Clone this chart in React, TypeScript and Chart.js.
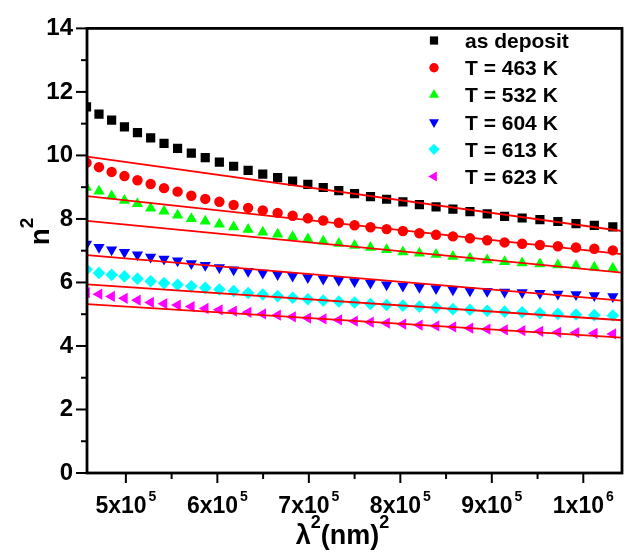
import React, { useEffect, useRef } from 'react';
import { Chart, registerables } from 'chart.js';

Chart.register(...registerables);

// λ² (nm²) for each measured wavelength
const lambdaSq = [456976, 470596, 484416, 498436, 512656, 527076, 541696, 556516, 571536, 586756, 602176, 617796, 633616, 649636, 665856, 682276, 698896, 715716, 732736, 749956, 767376, 784996, 802816, 820836, 839056, 857476, 876096, 894916, 913936, 933156, 952576, 972196, 992016, 1012036, 1032256];

const asDeposit = [11.53, 11.30, 11.11, 10.90, 10.72, 10.55, 10.38, 10.22, 10.07, 9.93, 9.79, 9.66, 9.53, 9.41, 9.30, 9.19, 9.09, 8.99, 8.89, 8.80, 8.70, 8.62, 8.54, 8.45, 8.38, 8.31, 8.23, 8.16, 8.08, 8.03, 7.98, 7.92, 7.85, 7.80, 7.75];
const t463 = [9.77, 9.63, 9.48, 9.35, 9.22, 9.10, 8.97, 8.86, 8.73, 8.63, 8.54, 8.44, 8.35, 8.27, 8.19, 8.10, 8.02, 7.95, 7.88, 7.80, 7.74, 7.68, 7.62, 7.55, 7.50, 7.45, 7.39, 7.33, 7.26, 7.22, 7.18, 7.14, 7.10, 7.06, 7.01];
const t532 = [8.99, 8.87, 8.72, 8.58, 8.48, 8.34, 8.24, 8.12, 8.01, 7.93, 7.83, 7.75, 7.67, 7.58, 7.52, 7.44, 7.37, 7.30, 7.23, 7.16, 7.10, 7.03, 6.96, 6.92, 6.88, 6.82, 6.76, 6.71, 6.65, 6.61, 6.58, 6.55, 6.53, 6.48, 6.45];
const t604 = [7.21, 7.11, 7.03, 6.95, 6.87, 6.80, 6.74, 6.68, 6.60, 6.54, 6.47, 6.40, 6.35, 6.30, 6.25, 6.20, 6.16, 6.11, 6.07, 6.03, 5.98, 5.93, 5.89, 5.85, 5.81, 5.77, 5.74, 5.72, 5.70, 5.68, 5.66, 5.64, 5.62, 5.59, 5.56];
const t613 = [6.41, 6.30, 6.24, 6.19, 6.12, 6.04, 5.98, 5.93, 5.88, 5.83, 5.78, 5.73, 5.67, 5.62, 5.57, 5.52, 5.47, 5.43, 5.40, 5.37, 5.32, 5.29, 5.27, 5.24, 5.21, 5.16, 5.14, 5.11, 5.08, 5.06, 5.03, 5.01, 4.99, 4.97, 4.96];
const t623 = [5.68, 5.63, 5.56, 5.50, 5.44, 5.37, 5.33, 5.29, 5.24, 5.18, 5.14, 5.10, 5.06, 5.01, 4.97, 4.92, 4.88, 4.85, 4.82, 4.78, 4.75, 4.72, 4.69, 4.66, 4.63, 4.60, 4.56, 4.53, 4.51, 4.48, 4.46, 4.43, 4.42, 4.40, 4.38];

// Linear fits: values at the left and right ends of the x axis
const X_MIN = 457500;
const X_MAX = 1042300;
const fitX = [X_MIN, X_MAX];
const fitAsDeposit = [9.96, 7.62];
const fit463 = [8.72, 6.89];
const fit532 = [7.94, 6.31];
const fit604 = [6.86, 5.43];
const fit613 = [5.94, 4.81];
const fit623 = [5.32, 4.26];

const legendLabels = ['as deposit', 'T = 463 K', 'T = 532 K', 'T = 604 K', 'T = 613 K', 'T = 623 K'];

const xTickValues = [500000, 600000, 700000, 800000, 900000, 1000000];
const xMinorTickValues = [550000, 650000, 750000, 850000, 950000];
const xTickMantissa = ['5x10', '6x10', '7x10', '8x10', '9x10', '1x10'];
const xTickExponent = ['5', '5', '5', '5', '5', '6'];

const FONT = "'Liberation Sans', Arial, sans-serif";

type Shape = 'square' | 'circle' | 'up' | 'down' | 'diamond' | 'left';

const seriesStyles: { color: string; shape: Shape }[] = [
  { color: '#000000', shape: 'square' },
  { color: '#FF0000', shape: 'circle' },
  { color: '#00FF00', shape: 'up' },
  { color: '#0000FF', shape: 'down' },
  { color: '#00FFFF', shape: 'diamond' },
  { color: '#FF00FF', shape: 'left' },
];

function chartPointStyle(shape: Shape) {
  switch (shape) {
    case 'square': return { pointStyle: 'rect', rotation: 0, radius: 6.5 };
    case 'circle': return { pointStyle: 'circle', rotation: 0, radius: 5.2 };
    case 'up': return { pointStyle: 'triangle', rotation: 0, radius: 6.5 };
    case 'down': return { pointStyle: 'triangle', rotation: 180, radius: 6.5 };
    case 'diamond': return { pointStyle: 'rectRot', rotation: 0, radius: 6.3 };
    case 'left': return { pointStyle: 'triangle', rotation: -90, radius: 6.5 };
  }
}

function drawMarker(ctx: CanvasRenderingContext2D, shape: Shape, x: number, y: number, r: number, color: string) {
  ctx.save();
  ctx.fillStyle = color;
  ctx.beginPath();
  const tri = (deg: number) => {
    let a = (deg * Math.PI) / 180;
    ctx.moveTo(x + Math.sin(a) * r, y - Math.cos(a) * r);
    a += (2 * Math.PI) / 3;
    ctx.lineTo(x + Math.sin(a) * r, y - Math.cos(a) * r);
    a += (2 * Math.PI) / 3;
    ctx.lineTo(x + Math.sin(a) * r, y - Math.cos(a) * r);
  };
  switch (shape) {
    case 'square': {
      const s = r * Math.SQRT1_2;
      ctx.rect(x - s, y - s, 2 * s, 2 * s);
      break;
    }
    case 'circle':
      ctx.arc(x, y, r, 0, Math.PI * 2);
      break;
    case 'up': tri(0); break;
    case 'down': tri(180); break;
    case 'left': tri(-90); break;
    case 'diamond':
      ctx.moveTo(x, y - r);
      ctx.lineTo(x + r, y);
      ctx.lineTo(x, y + r);
      ctx.lineTo(x - r, y);
      break;
  }
  ctx.closePath();
  ctx.fill();
  ctx.restore();
}

const decorPlugin = {
  id: 'decor',
  afterDatasetsDraw(chart: any) {
    const { ctx, chartArea: a, scales } = chart;
    const xs = scales.x;
    const ys = scales.y;
    ctx.save();
    // frame
    ctx.strokeStyle = '#000';
    ctx.lineWidth = 2.8;
    ctx.strokeRect(a.left, a.top, a.right - a.left, a.bottom - a.top);

    // y ticks (major + minor)
    ctx.lineWidth = 2;
    const yMajor: number[] = ys.ticks.map((t: any) => t.value);
    const seg = (x1: number, y1: number, x2: number, y2: number) => {
      ctx.beginPath();
      ctx.moveTo(x1, y1);
      ctx.lineTo(x2, y2);
      ctx.stroke();
    };
    yMajor.forEach((v: number, i: number) => {
      const py = ys.getPixelForValue(v);
      seg(a.left - 11, py, a.left, py);
      if (i < yMajor.length - 1) {
        const pm = ys.getPixelForValue((v + yMajor[i + 1]) / 2);
        seg(a.left - 6, pm, a.left, pm);
      }
    });
    // x ticks
    xTickValues.forEach((v) => {
      const px = xs.getPixelForValue(v);
      seg(px, a.bottom, px, a.bottom + 10);
    });
    xMinorTickValues.forEach((v) => {
      const px = xs.getPixelForValue(v);
      seg(px, a.bottom, px, a.bottom + 6);
    });

    // x tick labels with superscript exponent
    ctx.fillStyle = '#000';
    ctx.textBaseline = 'alphabetic';
    ctx.textAlign = 'left';
    const mainFont = `bold 23px ${FONT}`;
    const supFont = `bold 14px ${FONT}`;
    xTickValues.forEach((v, i) => {
      const px = xs.getPixelForValue(v);
      ctx.font = mainFont;
      const w1 = ctx.measureText(xTickMantissa[i]).width;
      ctx.font = supFont;
      const w2 = ctx.measureText(xTickExponent[i]).width;
      const gap = 2;
      const start = px - (w1 + gap + w2) / 2;
      const base = a.bottom + 39.5;
      ctx.font = mainFont;
      ctx.fillText(xTickMantissa[i], start, base);
      ctx.font = supFont;
      ctx.fillText(xTickExponent[i], start + w1 + gap, base - 12);
    });

    // x axis title: λ²(nm)²
    {
      const big = `bold 27px ${FONT}`;
      const sup = `bold 18px ${FONT}`;
      const parts: [string, boolean][] = [['λ', false], ['2', true], ['(nm)', false], ['2', true]];
      let total = 0;
      const widths = parts.map(([t, s]) => {
        ctx.font = s ? sup : big;
        const w = ctx.measureText(t).width;
        total += w;
        return w;
      });
      let x = 342.5 - total / 2;
      const base = 544;
      parts.forEach(([t, s], i) => {
        ctx.font = s ? sup : big;
        ctx.fillText(t, x, s ? base - 16 : base);
        x += widths[i];
      });
    }

    // y axis title: n² (rotated)
    {
      const big = `bold 28px ${FONT}`;
      const sup = `bold 19px ${FONT}`;
      ctx.save();
      ctx.translate(48.5, 0);
      ctx.rotate(-Math.PI / 2);
      ctx.font = big;
      const wn = ctx.measureText('n').width;
      ctx.font = sup;
      const w2 = ctx.measureText('2').width;
      const start = -(231.5 + (wn + w2) / 2);
      ctx.font = big;
      ctx.fillText('n', start, 0);
      ctx.font = sup;
      ctx.fillText('2', start + wn, -16);
      ctx.restore();
    }

    // legend
    const legendMarkerR: Record<Shape, number> = { square: 5.8, circle: 4.7, up: 5.8, down: 5.8, diamond: 5.6, left: 5.8 };
    ctx.font = `bold 21px ${FONT}`;
    legendLabels.forEach((label, i) => {
      const cy = 40.5 + i * 27.2;
      const st = seriesStyles[i];
      drawMarker(ctx, st.shape, 434, cy, legendMarkerR[st.shape], st.color);
      ctx.fillStyle = '#000';
      ctx.fillText(label, 465, cy + 7.5);
    });
    ctx.restore();
  },
};

export default function App() {
  const canvasRef = useRef<HTMLCanvasElement | null>(null);

  useEffect(() => {
    if (!canvasRef.current) return;
    const seriesValues = [asDeposit, t463, t532, t604, t613, t623];
    const fits = [fitAsDeposit, fit463, fit532, fit604, fit613, fit623];

    const fitSets = fits.map((f, i) => ({
      label: 'fit ' + legendLabels[i],
      data: fitX.map((x, j) => ({ x, y: f[j] })),
      showLine: true,
      borderColor: '#FF0000',
      borderWidth: 1.8,
      pointRadius: 0,
      fill: false,
      order: 0,
    }));
    const pointSets = seriesValues.map((vals, i) => {
      const st = seriesStyles[i];
      const ps = chartPointStyle(st.shape)!;
      return {
        label: legendLabels[i],
        data: lambdaSq.map((x, j) => ({ x, y: vals[j] })),
        showLine: false,
        pointStyle: ps.pointStyle,
        rotation: ps.rotation,
        pointRadius: ps.radius,
        pointBackgroundColor: st.color,
        pointBorderWidth: 0,
        pointBorderColor: st.color,
        clip: 0,
        order: 1,
      };
    });

    const chart = new Chart(canvasRef.current, {
      type: 'scatter',
      data: { datasets: [...fitSets, ...pointSets] as any },
      options: {
        animation: false,
        responsive: false,
        maintainAspectRatio: false,
        layout: { padding: { left: 0, right: 11, top: 22, bottom: 0 } },
        plugins: { legend: { display: false }, tooltip: { enabled: false } },
        scales: {
          x: {
            type: 'linear',
            min: X_MIN,
            max: X_MAX,
            grid: { display: false, drawTicks: false },
            border: { display: false },
            ticks: { display: false },
            afterFit: (s: any) => { s.height = 87; },
          },
          y: {
            type: 'linear',
            min: 0,
            max: 14,
            grid: { display: false, drawTicks: false },
            border: { display: false },
            ticks: {
              stepSize: 2,
              padding: 14,
              color: '#000',
              font: { family: FONT, size: 24, weight: 'bold' },
            },
            afterFit: (s: any) => { s.width = 87; },
          },
        },
      } as any,
      plugins: [decorPlugin],
    });
    return () => chart.destroy();
  }, []);

  return (
    <div style={{ position: 'absolute', left: 0, top: 0, width: 633, height: 560, background: '#fff' }}>
      <canvas ref={canvasRef} width={633} height={560} style={{ width: 633, height: 560 }} />
    </div>
  );
}
